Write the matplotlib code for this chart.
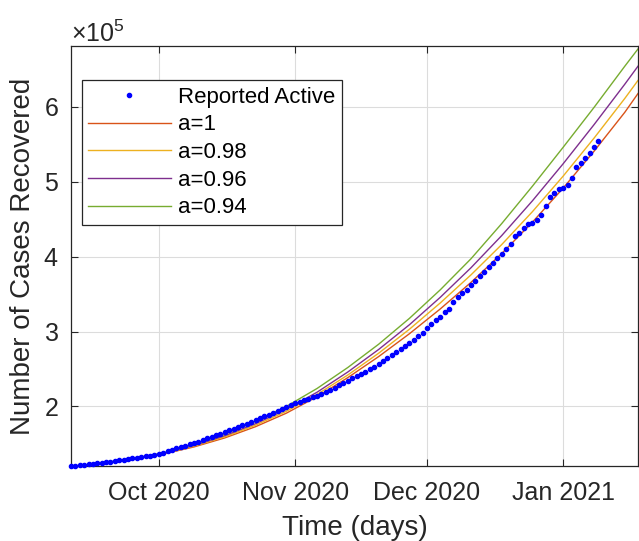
import numpy as np
import matplotlib
matplotlib.use('Agg')
import matplotlib.pyplot as plt
import matplotlib.dates as mdates
from matplotlib.ticker import ScalarFormatter

plt.rcParams['font.family'] = ['Liberation Sans', 'DejaVu Sans']
plt.rcParams['mathtext.fontset'] = 'custom'
plt.rcParams['mathtext.rm'] = 'Liberation Sans'
plt.rcParams['mathtext.it'] = 'Liberation Sans:italic'

#--- data (values in 1e5 cases)
start = np.datetime64('2020-09-11')

# reported, one point per day from Sep 11 2020
reported = [1.205, 1.211, 1.217, 1.223, 1.229, 1.236, 1.243, 1.250, 1.257, 1.264,
            1.272, 1.280, 1.288, 1.297, 1.306, 1.315, 1.325, 1.335, 1.345, 1.356,
            1.368, 1.385, 1.403, 1.421, 1.439, 1.457, 1.475, 1.494, 1.513, 1.532,
            1.553, 1.574, 1.595, 1.616, 1.637, 1.658, 1.680, 1.702, 1.724, 1.746,
            1.768, 1.792, 1.816, 1.841, 1.866, 1.891, 1.916, 1.942, 1.968, 1.994,
            2.020, 2.040, 2.060, 2.080, 2.100, 2.120, 2.145, 2.170, 2.195, 2.220,
            2.250, 2.280, 2.310, 2.345, 2.375, 2.405, 2.435, 2.465, 2.500, 2.530,
            2.565, 2.600, 2.640, 2.680, 2.720, 2.760, 2.800, 2.845, 2.890, 2.935,
            2.980, 3.05, 3.10, 3.15, 3.20, 3.26, 3.30, 3.40, 3.46, 3.51,
            3.56, 3.62, 3.68, 3.74, 3.80, 3.86, 3.92, 3.98, 4.04, 4.10,
            4.17, 4.27, 4.32, 4.38, 4.44, 4.45, 4.49, 4.56, 4.68, 4.79,
            4.85, 4.90, 4.92, 4.95, 5.05, 5.19, 5.25, 5.31, 5.38, 5.46,
            5.54]

# model curves, read every week
model_days = [0, 7, 14, 21, 28, 35, 42, 49, 56, 63, 70, 77, 84, 91, 98, 105, 112, 119, 126, 129]
a_100 = [1.20, 1.24, 1.295, 1.365, 1.46, 1.58, 1.73, 1.91, 2.13, 2.385, 2.665, 2.97, 3.30, 3.655,
         4.04, 4.46, 4.915, 5.405, 5.925, 6.175]
a_098 = [1.20, 1.24, 1.295, 1.37, 1.47, 1.595, 1.75, 1.935, 2.16, 2.42, 2.71, 3.03, 3.38, 3.755,
         4.16, 4.60, 5.075, 5.58, 6.11, 6.35]
a_096 = [1.20, 1.245, 1.30, 1.375, 1.48, 1.61, 1.77, 1.96, 2.19, 2.46, 2.76, 3.09, 3.455, 3.85,
         4.28, 4.745, 5.24, 5.76, 6.30, 6.54]
a_094 = [1.20, 1.245, 1.305, 1.38, 1.49, 1.63, 1.80, 2.00, 2.24, 2.52, 2.83, 3.175, 3.555, 3.97,
         4.44, 4.94, 5.46, 5.99, 6.54, 6.77]

labels = ['a=1', 'a=0.98', 'a=0.96', 'a=0.94']
colors = ['#D95319', '#EDB120', '#7E2F8E', '#77AC30']

#--- dates
rep_dates = start + np.arange(len(reported)).astype('timedelta64[D]')
mod_dates = start + np.array(model_days).astype('timedelta64[D]')

fig = plt.figure(figsize=(6.39, 5.41), dpi=100)
ax = fig.add_axes([0.111, 0.1386, 0.8874, 0.7764])

ax.plot(rep_dates, np.array(reported) * 1e5, '.', color='b', markersize=6,
        label='Reported Active', clip_on=False, zorder=3)
for vals, lab, c in zip([a_100, a_098, a_096, a_094], labels, colors):
    ax.plot(mod_dates, np.array(vals) * 1e5, '-', color=c, linewidth=1.0, label=lab, zorder=2)

ax.set_xlim(start, start + np.timedelta64(129, 'D'))
ax.set_ylim(1.205e5, 6.81e5)

ax.xaxis.set_major_locator(mdates.MonthLocator())
ax.xaxis.set_major_formatter(mdates.DateFormatter('%b %Y'))
ax.set_yticks([2e5, 3e5, 4e5, 5e5, 6e5])
fmt = ScalarFormatter(useMathText=True)
fmt.set_powerlimits((0, 0))
ax.yaxis.set_major_formatter(fmt)
ax.yaxis.offsetText.set_fontsize(18)
ax.yaxis.offsetText.set_color('#262626')

ax.grid(True, color='#dcdcdc', linewidth=0.8)
ax.set_axisbelow(True)
ax.tick_params(direction='in', length=5, width=0.8, top=True, right=True,
               labelsize=18, colors='#262626', pad=9)
ax.tick_params(axis='x', pad=11)
for s in ax.spines.values():
    s.set_color('#262626')
    s.set_linewidth(0.9)

ax.set_xlabel('Time (days)', fontsize=20, color='#262626', labelpad=7)
ax.set_ylabel('Number of Cases Recovered', fontsize=20, color='#262626', labelpad=5)

leg = ax.legend(loc='upper left', bbox_to_anchor=(0.019, 0.919), borderaxespad=0,
                fontsize=16, fancybox=False, framealpha=1, edgecolor='#262626',
                handlelength=3.7, handletextpad=0.35, labelspacing=0.3,
                borderpad=0.3, numpoints=1)
leg.get_frame().set_linewidth(0.9)

fig.savefig('out.png', dpi=100)
